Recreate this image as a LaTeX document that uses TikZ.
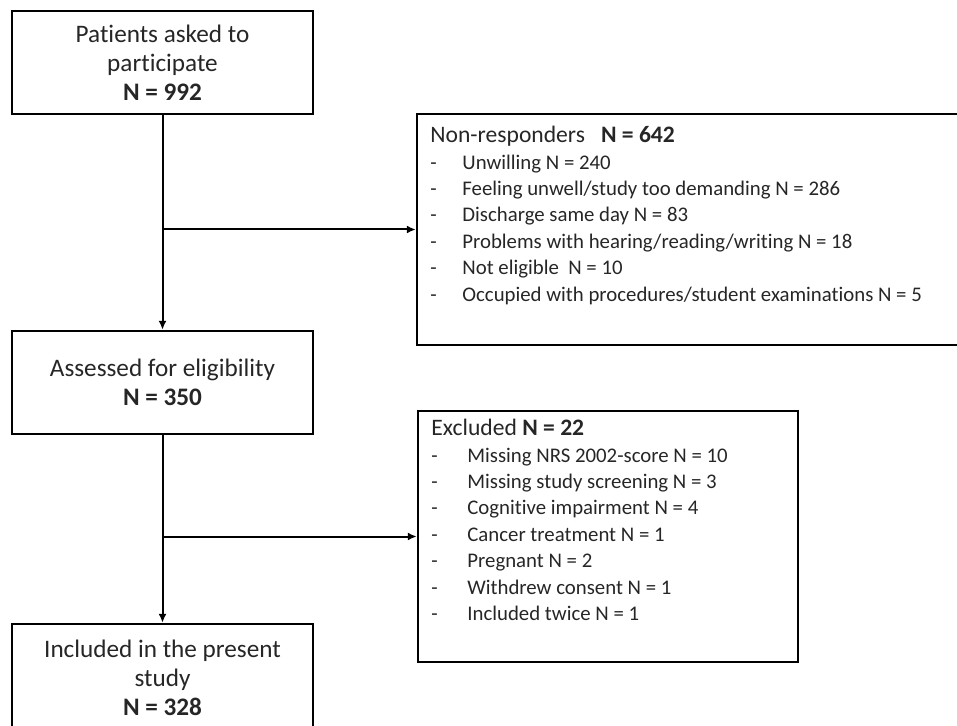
\documentclass[tikz,border=0pt]{standalone}
\usepackage{fontspec}
\setmainfont{Carlito}[Ligatures=NoCommon]
\usetikzlibrary{positioning,calc,arrows.meta}
\newcommand{\dashitem}[1][16pt]{\makebox[#1][l]{-}}
\newcommand{\headfont}{\fontsize{11.8}{13.2}\selectfont}

\begin{document}
\begin{tikzpicture}[x=0.5pt, y=-0.5pt,
    mainbox/.style={draw, line width=1.2pt, text=black!85, minimum width=150.5pt, align=center, font=\fontsize{12.6}{14.6}\selectfont},
    sidebox/.style={draw, line width=1.2pt},
    listtext/.style={align=left, inner sep=0pt, anchor=north west, text=black!85, font=\fontsize{10.4}{13.2}\selectfont},
    flow/.style={line width=1pt, -{Latex[length=4.5pt,width=4pt]}}]
    \useasboundingbox (0,0) rectangle (957,726);
    \clip (0,0) rectangle (957,726);

    % Main column
    \node[mainbox, minimum height=51.5pt] (asked) at (162.5,62.5) {Patients asked to\\participate\\\textbf{N = 992}};
    \node[mainbox, minimum height=51.5pt] (assessed) at (162.5,382.5) {Assessed for eligibility\\\textbf{N = 350}};
    \node[mainbox, minimum height=54pt] (included) at (162.5,678) {Included in the present\\study\\\textbf{N = 328}};

    % Non-responders
    \node[sidebox, minimum width=274pt, minimum height=115.5pt] (nonresp) at (691,229.5) {};
    \node[listtext] (nonresptxt) at (430,126) {{\headfont Non-responders\hspace{8pt}\textbf{N = 642}}\\
        \dashitem Unwilling N = 240\\
        \dashitem Feeling unwell/study too demanding N = 286\\
        \dashitem Discharge same day N = 83\\
        \dashitem Problems with hearing/reading/writing N = 18\\
        \dashitem Not eligible\ \ N = 10\\
        \dashitem Occupied with procedures/student examinations N = 5};

    % Excluded
    \node[sidebox, minimum width=190pt, minimum height=125.5pt] (excl) at (608,536.5) {};
    \node[listtext] (excltxt) at (431,419) {{\headfont Excluded \textbf{N = 22}}\\
        \dashitem[18pt]Missing NRS 2002-score N = 10\\
        \dashitem[18pt]Missing study screening N = 3\\
        \dashitem[18pt]Cognitive impairment N = 4\\
        \dashitem[18pt]Cancer treatment N = 1\\
        \dashitem[18pt]Pregnant N = 2\\
        \dashitem[18pt]Withdrew consent N = 1\\
        \dashitem[18pt]Included twice N = 1};

    % Arrows
    \coordinate (split1) at (asked.south |- nonresp.west);
    \coordinate (split2) at (assessed.south |- excl.west);
    \draw[flow] (asked.south) -- (assessed.north);
    \draw[flow] (split1) -- (nonresp.west);
    \draw[flow] (assessed.south) -- (included.north);
    \draw[flow] (split2) -- (excl.west);
\end{tikzpicture}
\end{document}
